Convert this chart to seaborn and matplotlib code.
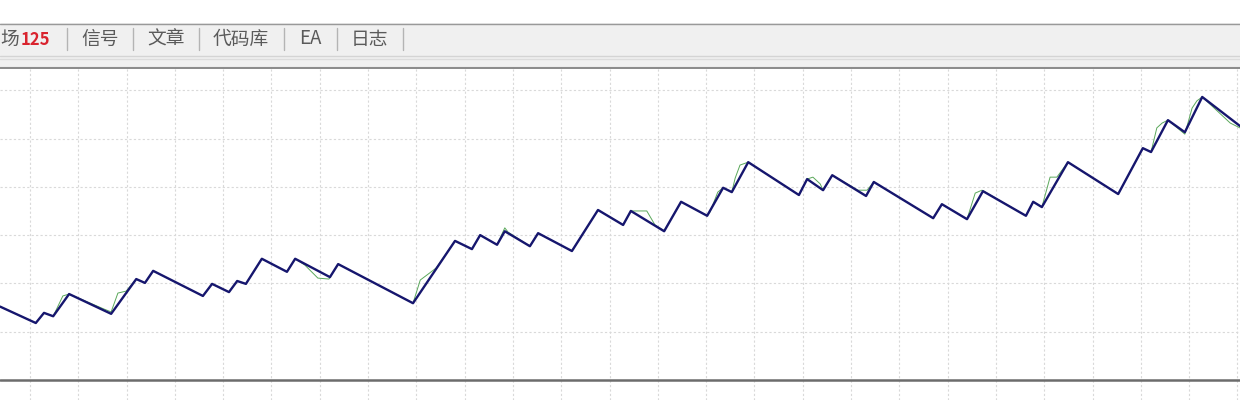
import matplotlib
matplotlib.use("Agg")
import matplotlib.pyplot as plt
import seaborn as sns
import pandas as pd


# ======================================================
# Data
# ======================================================
# balance curve vertices (deal axis, balance units)
balance_x = [-6.2, 1.2, 2.9, 4.8, 8.1, 16.8, 22.0, 23.8, 25.5, 35.8, 37.7, 41.2,
             42.9, 44.7, 48.0, 53.2, 54.9, 62.1, 63.8, 79.3, 88.0, 91.5, 93.2,
             96.7, 98.3, 103.5, 105.2, 112.2, 117.6, 122.8, 124.4, 131.3, 134.8,
             140.2, 143.5, 145.3, 148.7, 159.2, 160.9, 164.2, 166.1, 173.1, 174.7,
             187.0, 188.8, 194.0, 197.3, 206.2, 207.7, 209.5, 214.9, 225.3, 230.4,
             232.1, 235.6, 239.1, 242.7, 250.5]
balance_y = [152, 118, 139, 132, 178, 137, 209, 201, 226, 174, 199, 182,
             205, 199, 251, 224, 251, 213, 240, 159, 288, 271, 300,
             280, 308, 277, 304, 267, 352, 321, 350, 308, 369,
             340, 398, 389, 451, 383, 416, 393, 424, 381, 410,
             335, 364, 333, 391, 340, 369, 358, 451, 385, 480,
             472, 538, 513, 586, 526]

# equity curve (follows balance with small floating deviations)
equity_x = [-6.2, 1.2, 2.9, 4.8, 6.8, 8.1, 15.3, 16.8, 18.2, 19.9, 22.0, 23.8,
            25.5, 35.8, 37.7, 41.2, 42.9, 44.7, 48.0, 53.2, 54.9, 56.9, 59.6,
            61.9, 63.8, 79.3, 80.8, 82.8, 84.1, 88.0, 91.5, 93.2, 96.7, 98.3,
            99.0, 103.5, 105.2, 112.2, 117.6, 122.8, 124.4, 127.7, 129.4, 131.3,
            134.8, 140.2, 140.8, 142.4, 143.5, 145.3, 146.0, 147.0, 148.7, 159.2,
            160.9, 162.1, 163.6, 164.2, 166.1, 171.4, 173.3, 174.7, 187.0, 188.8,
            194.0, 195.7, 197.1, 206.2, 207.7, 209.5, 211.2, 212.6, 214.9, 225.3,
            230.4, 232.1, 233.3, 234.4, 235.6, 239.1, 240.6, 241.6, 242.7, 248.5,
            250.5]
equity_y = [152, 118, 139, 132, 174, 178, 147, 141, 180, 184, 209, 201,
            226, 174, 199, 182, 205, 199, 251, 224, 251, 238, 211,
            209, 240, 159, 207, 222, 232, 288, 271, 300, 280, 315,
            306, 277, 304, 267, 352, 321, 350, 350, 321, 309,
            369, 340, 348, 389, 398, 389, 418, 445, 451, 383,
            416, 420, 406, 393, 424, 393, 393, 410, 335, 364,
            333, 387, 393, 340, 369, 358, 420, 420, 451, 385,
            480, 472, 522, 532, 538, 509, 563, 578, 586, 532,
            522]

# header tabs
tab_labels = ["信号", "文章", "代码库", "EA", "日志"]
tab_x = [81, 147, 213, 299, 351]
sep_x = [67, 133, 199, 284, 337, 403]

balance = pd.DataFrame({"deal": balance_x, "value": balance_y})
equity = pd.DataFrame({"deal": equity_x, "value": equity_y})


# ======================================================
# Style
# ======================================================
sns.set_theme(style="white")
plt.rcParams["font.family"] = ["Noto Sans CJK SC", "DejaVu Sans"]

W, H = 1240, 400
fig = plt.figure(figsize=(W / 100, H / 100), dpi=100)
fig.patch.set_facecolor("white")


# ======================================================
# Header (tab bar of the terminal window)
# ======================================================
top = 69
hdr = fig.add_axes([0, 1 - top / H, 1, top / H])
hdr.set_xlim(0, W)
hdr.set_ylim(top, 0)
hdr.axis("off")

hdr.axhspan(23, 68, color="#f0f0f0", lw=0)
hdr.axhline(23.5, color="#999999", lw=1)
hdr.axhline(55.5, color="#d4d4d4", lw=1)
hdr.axhline(58.5, color="#dcdcdc", lw=1)
hdr.axhline(67.8, color="#8c8c8c", lw=1.5)

hdr.text(0, 39, "场", fontsize=13.5, color="#5a5a5a", va="center", ha="left")
hdr.text(21, 40, "125", fontsize=12, color="#d9232e", fontweight="bold",
         va="center", ha="left")
for lab, x in zip(tab_labels, tab_x):
    hdr.text(x, 39, lab, fontsize=13.5, color="#5a5a5a", va="center", ha="left")
for x in sep_x:
    hdr.plot([x, x], [28, 50], color="#b4b4b4", lw=1)


# ======================================================
# Balance / equity chart
# ======================================================
ax = fig.add_axes([0, 0, 1, 1 - top / H])
ax.set_xlim(-6.21, 250.52)
ax.set_ylim(-41.4, 643.9)

for x in range(0, 251, 10):
    ax.axvline(x, color="#d9d9d9", lw=0.8, ls=(0, (2, 2)), zorder=0)
for y in range(100, 601, 100):
    ax.axhline(y, color="#d9d9d9", lw=0.8, ls=(0, (2, 2)), zorder=0)
ax.axhline(0, color="#6c6c6c", lw=1.8, zorder=1)

sns.lineplot(data=equity, x="deal", y="value", sort=False, estimator=None,
             color="#5aa85a", lw=0.7, ax=ax, zorder=2)
sns.lineplot(data=balance, x="deal", y="value", sort=False, estimator=None,
             color="#16166e", lw=1.7, ax=ax, zorder=3)

ax.set_xlabel("")
ax.set_ylabel("")
ax.set_xticks([])
ax.set_yticks([])
for s in ax.spines.values():
    s.set_visible(False)

fig.savefig("out.png", dpi=100)
